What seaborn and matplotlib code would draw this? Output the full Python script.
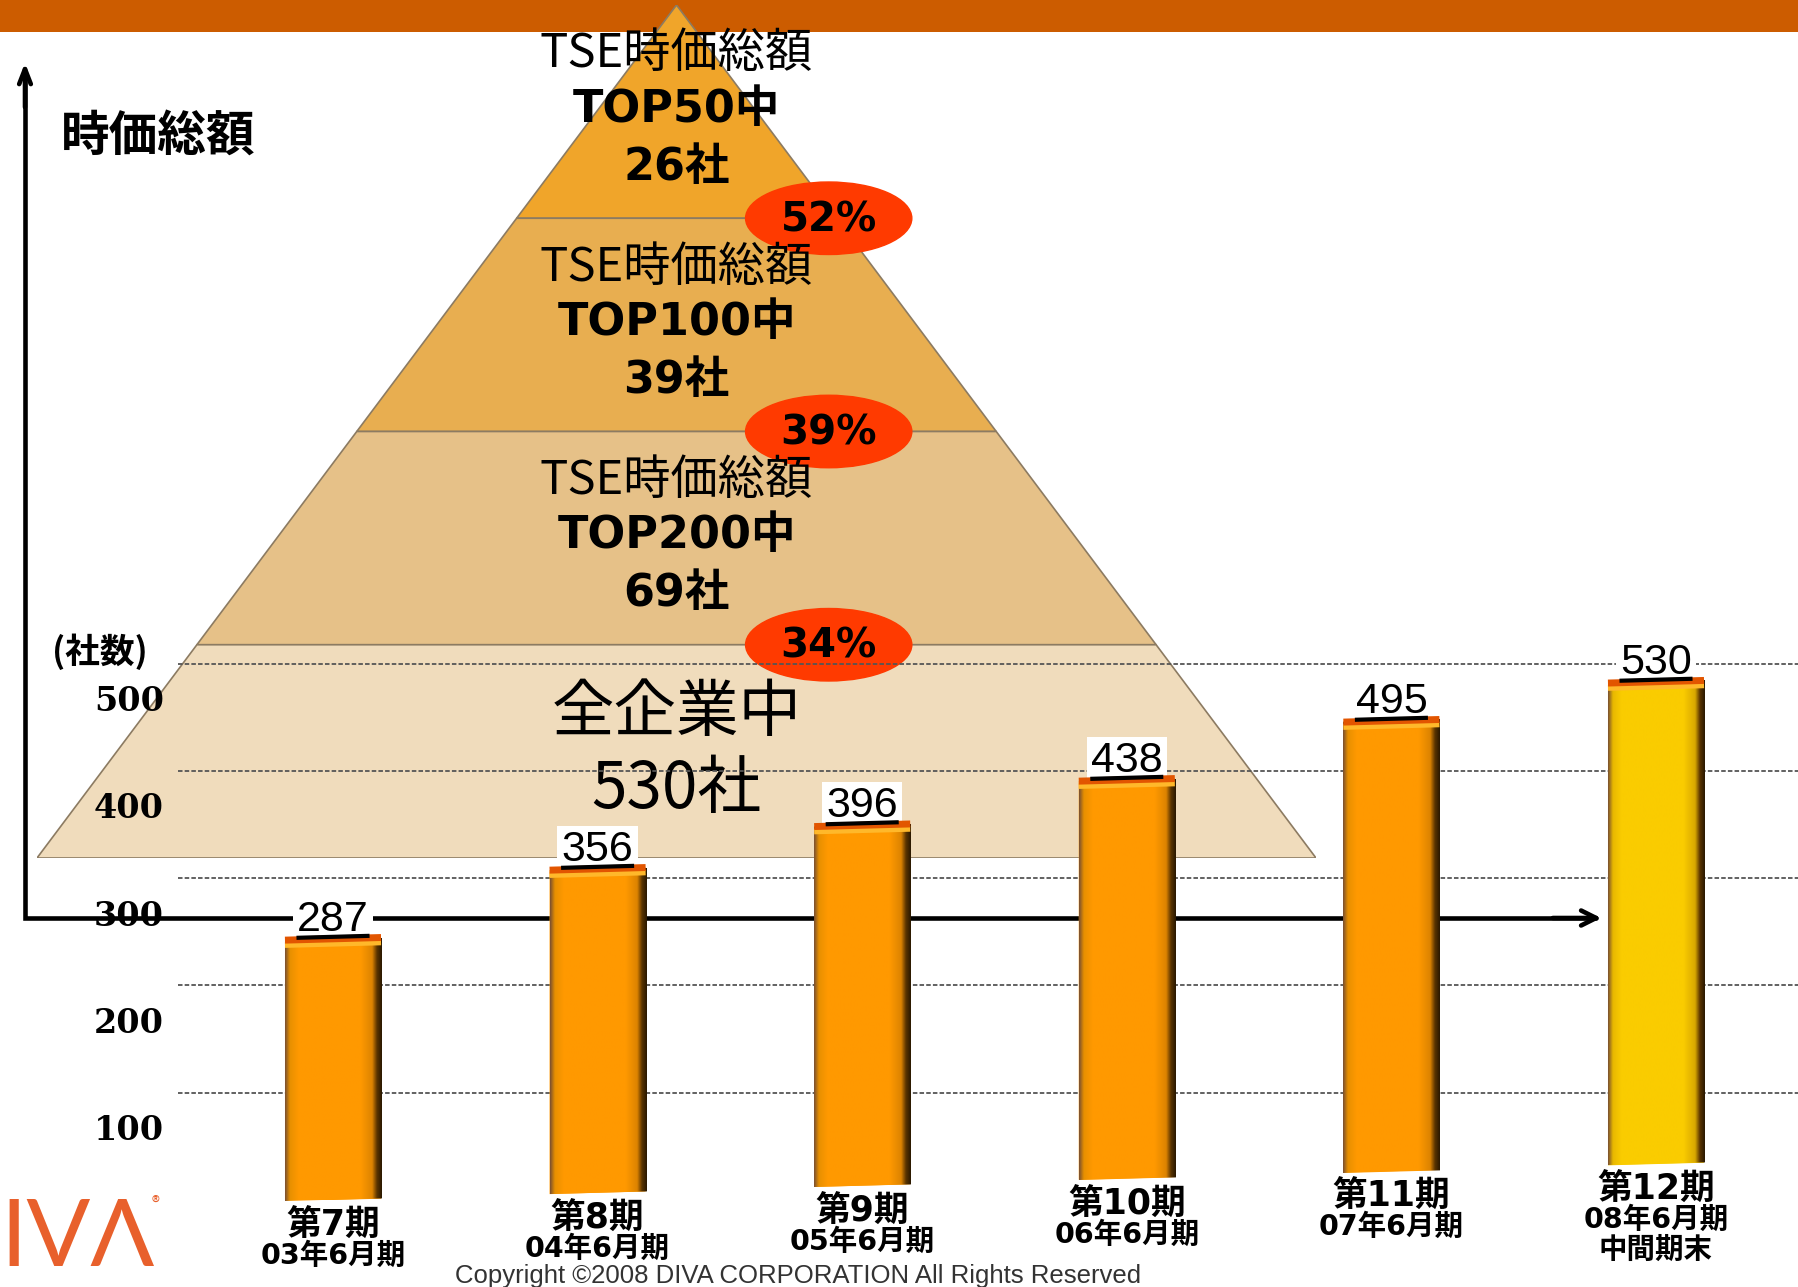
import numpy as np
import matplotlib
matplotlib.use("Agg")
import matplotlib.pyplot as plt
import matplotlib.transforms as mtransforms
from matplotlib.patches import Ellipse, Polygon, Rectangle
from matplotlib.colors import LinearSegmentedColormap
import seaborn as sns

# data
periods = ["第7期", "第8期", "第9期", "第10期", "第11期", "第12期"]
period_ends = ["03年6月期", "04年6月期", "05年6月期", "06年6月期", "07年6月期", "08年6月期\n中間期末"]
companies = [287, 356, 396, 438, 495, 530]
bar_colors = ["#FF9900", "#FF9900", "#FF9900", "#FF9900", "#FF9900", "#FACC00"]

tier_heads = ["TSE時価総額", "TSE時価総額", "TSE時価総額"]
tier_scope = ["TOP50中", "TOP100中", "TOP200中"]
tier_counts = [26, 39, 69]
tier_shares = ["52%", "39%", "34%"]
all_label = "全企業中"
all_count = 530
tier_colors = ["#F0A52A", "#E8AE50", "#E6C188", "#F0DCBC"]

scale_ticks = [100, 200, 300, 400, 500]

W, H = 1798, 1287


def frac(x0, y0, x1, y1):
    return [x0 / W, 1 - y1 / H, (x1 - x0) / W, (y1 - y0) / H]


sns.set_theme(style="white")
plt.rcParams["font.family"] = ["Noto Sans CJK JP", "DejaVu Sans"]
plt.rcParams["text.color"] = "black"
latin_cjk = ["DejaVu Sans", "Noto Sans CJK JP"]

fig = plt.figure(figsize=(W / 100, H / 100), dpi=100)
dpt = fig.dpi_scale_trans


def shift(dx, dy):
    # offset in pixels (figure at 100 dpi), dy positive = down
    return mtransforms.ScaledTranslation(dx / 100, -dy / 100, dpt)


# background: header band, axis arrows, captions
bg = fig.add_axes([0, 0, 1, 1])
bg.set_xlim(0, W)
bg.set_ylim(H, 0)
bg.axis("off")
bg.add_patch(Rectangle((0, 0), W, 32, color="#CC5C00", lw=0))
bg.plot([25, 25, 1596], [72, 918, 918], color="black", lw=3.3, solid_joinstyle="miter")
bg.annotate("", xy=(25, 60), xytext=(25, 110),
            arrowprops=dict(arrowstyle="->,head_length=0.9,head_width=0.35", lw=3.3, color="black"))
bg.annotate("", xy=(1604, 918), xytext=(1550, 918),
            arrowprops=dict(arrowstyle="->,head_length=0.9,head_width=0.45", lw=3.3, color="black"))
bg.text(158, 136, "時価総額", ha="center", va="center", fontsize=35, fontweight="bold")
bg.text(52, 652, "(社数)", ha="left", va="center", fontsize=25, fontweight="bold")
logo = bg.text(0, 1240, "IVΛ", ha="left", va="center", fontsize=68, color="#E8602C",
               family="Lato", fontweight="normal")
bg.text(152, 1203, "®", ha="left", va="center", fontsize=12, color="#E8602C")
bg.text(798, 1276, "Copyright ©2008 DIVA CORPORATION All Rights Reserved", ha="center",
        va="center", fontsize=18.5, color="#333333", family="Liberation Sans")

# pyramid of tiers
pa = fig.add_axes(frac(37, 5, 1316, 858))
pa.set_xlim(-1, 1)
pa.set_ylim(4, 0)
pa.axis("off")
n_tiers = len(tier_colors)
for k, col in enumerate(tier_colors):
    a, b = k / n_tiers, (k + 1) / n_tiers
    pa.add_patch(Polygon([(-a, k), (a, k), (b, k + 1), (-b, k + 1)], closed=True,
                         facecolor=col, edgecolor="#8C7B62", lw=1.2, zorder=1))

for k in range(len(tier_counts)):
    pa.text(0, k + 0.23, tier_heads[k], ha="center", va="center", fontsize=34)
    pa.text(0, k + 0.49, tier_scope[k], ha="center", va="center", fontsize=32,
            fontweight="bold", family=latin_cjk)
    pa.text(0, k + 0.76, f"{tier_counts[k]}社", ha="center", va="center", fontsize=32,
            fontweight="bold", family=latin_cjk)
    pa.add_patch(Ellipse((0.238, k + 1), 0.26, 0.34, color="#FF3A00", zorder=2))
    pa.text(0.238, k + 1.01, tier_shares[k], ha="center", va="center", fontsize=29,
            fontweight="bold", family="DejaVu Sans", zorder=4)
pa.text(0, 3.32, all_label, ha="center", va="center", fontsize=45)
pa.text(0, 3.68, f"{all_count}社", ha="center", va="center", fontsize=46)

# dashed scale lines with their labels
sa = fig.add_axes(frac(178, 32, 1798, 1200))
sa.patch.set_visible(False)
sa.set_xlim(0, 1)
sa.set_ylim(0, 1089)
sa.set_yticks(scale_ticks)
sa.set_yticklabels([])
sa.set_xticks([])
sa.tick_params(length=0)
sa.yaxis.grid(True, color="#555555", lw=1.3, ls=(0, (2.5, 1.2)))
sns.despine(ax=sa, left=True, bottom=True)
lab_tr = sa.get_yaxis_transform() + shift(-14, 38)
for t in scale_ticks:
    sa.text(0, t, str(t), transform=lab_tr, ha="right", va="center", fontsize=24,
            fontweight="bold", family="DejaVu Serif")

# bars
ba = fig.add_axes(frac(200.7, 32, 1788.3, 1200))
ba.patch.set_visible(False)
sns.barplot(x=periods, y=companies, hue=periods, palette=bar_colors, legend=False,
            width=0.363, saturation=1, ax=ba)
ba.axis("off")

lift = 7.9  # bars step up a little, slide perspective
skew = mtransforms.Affine2D(np.array([[1, 0, 0], [lift, 1, 0], [0, 0, 1]]))
T = skew + ba.transData

grad = np.linspace(0, 1, 256)[None, :]
for i, p in enumerate(ba.patches[:len(companies)]):
    p.set_transform(T)
    p.set_edgecolor("none")
    base = bar_colors[i]
    if base == "#FACC00":
        light, shade = "#E8B800", "#D9A800"
    else:
        light, shade = "#E89000", "#DD8400"
    cm = LinearSegmentedColormap.from_list(
        f"bevel{i}", [(0, "#7A5030"), (0.05, light), (0.14, base), (0.78, base),
                      (0.9, shade), (0.95, "#5A3400"), (1, "#2A1800")])
    x0, w, h = p.get_x(), p.get_width(), p.get_height()
    im = ba.imshow(grad, cmap=cm, extent=(x0, x0 + w, 0, h), aspect="auto",
                   interpolation="bilinear", transform=T, zorder=2)
    im.set_clip_path(p)
    ba.plot([x0, x0 + w], [h, h], transform=T + shift(0, 5), color="#FFB82A", lw=4,
            zorder=3, solid_capstyle="butt")
    ba.plot([x0, x0 + w], [h, h], transform=T, color="#E25500", lw=5, zorder=3,
            solid_capstyle="butt")

for i, v in enumerate(companies):
    ba.text(i, v, str(v), transform=T + shift(0, -8), ha="center", va="baseline",
            fontsize=31, family="Liberation Sans", zorder=1.5,
            bbox=dict(facecolor="white", edgecolor="none", pad=3))
    ba.plot([i - 0.138, i + 0.138], [v, v], transform=T + shift(0, -2), color="black",
            lw=3, zorder=6, solid_capstyle="butt")
    ba.text(i, 0, periods[i], transform=T + shift(0, 26), ha="center", va="center",
            fontsize=25, fontweight="bold", family=latin_cjk)
    ba.text(i, 0, period_ends[i], transform=T + shift(0, 42), ha="center", va="top",
            fontsize=20.5, fontweight="bold", family=latin_cjk, linespacing=1.08)

ba.set_xlim(-0.5, len(companies) - 0.5)
ba.set_ylim(0, 1283.5)

fig.savefig("out.png", dpi=100)
